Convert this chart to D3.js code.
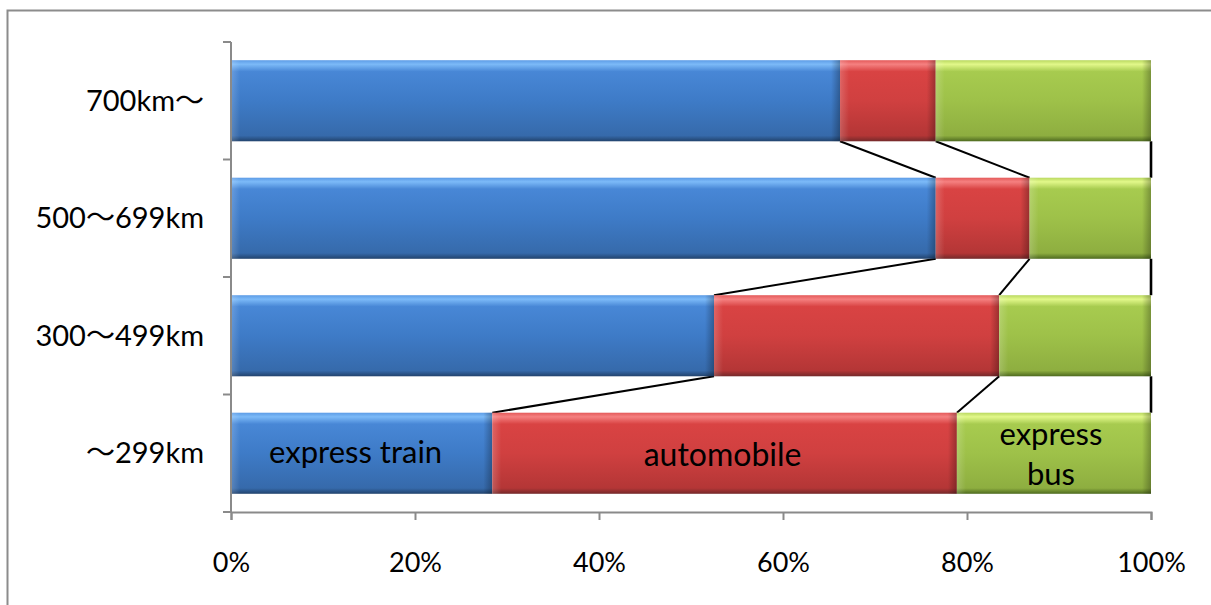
<!DOCTYPE html>
<html>
<head>
<meta charset="utf-8">
<script src="https://cdn.jsdelivr.net/npm/d3@7"></script>
<style>
  html, body { margin: 0; padding: 0; background: #fff; }
  svg { display: block; }
  text { font-family: Lato, "Noto Sans CJK JP", sans-serif; fill: #000; }
</style>
</head>
<body>
<svg id="chart" width="1211" height="605"></svg>
<script>
// Distance bands, top to bottom
const categories = ["700km〜", "500〜699km", "300〜499km", "〜299km"];
// Modal share (%) per band
const expressTrain = [66.2, 76.6, 52.5, 28.4];
const automobile   = [10.4, 10.2, 31.0, 50.5];
const expressBus   = [23.4, 13.2, 16.5, 21.1];
const seriesNames  = ["express train", "automobile", "express bus"];
const xTicks = [0, 20, 40, 60, 80, 100];

const svg = d3.select("#chart");
const W = 1211, H = 605;
const m = { left: 231, right: 60, top: 42, bottom: 93 };

const x = d3.scaleLinear().domain([0, 100]).range([m.left, W - m.right]);
const y = d3.scaleBand().domain(categories)
  .range([m.top, H - m.bottom]).paddingInner(0.31).paddingOuter(0.155);

// Outer chart frame
svg.append("rect").attr("x", 7.5).attr("y", 10.5)
  .attr("width", W + 20).attr("height", H + 20)
  .attr("fill", "none").attr("stroke", "#8c8c8c").attr("stroke-width", 2);

// Gradients giving the bars a bevelled look
const defs = svg.append("defs");
const palettes = [
  { id: "g0", stops: ["#5d9ce6", "#7cbaf8", "#4887d6", "#3e7bc7", "#366aab", "#22436d"] },
  { id: "g1", stops: ["#e45a5a", "#f58080", "#d94343", "#d04040", "#b43636", "#74292a"] },
  { id: "g2", stops: ["#b9d860", "#e2f88a", "#a7cb4f", "#9ec149", "#8eae40", "#4e6a1f"] }
];
palettes.forEach(p => {
  const g = defs.append("linearGradient").attr("id", p.id)
    .attr("x1", 0).attr("y1", 0).attr("x2", 0).attr("y2", 1);
  [0, 0.05, 0.14, 0.5, 0.93, 1].forEach((o, i) =>
    g.append("stop").attr("offset", o).attr("stop-color", p.stops[i]));
});
const eL = defs.append("linearGradient").attr("id", "edgeL");
eL.append("stop").attr("offset", 0).attr("stop-color", "#fff").attr("stop-opacity", 0.18);
eL.append("stop").attr("offset", 1).attr("stop-color", "#fff").attr("stop-opacity", 0);
const eR = defs.append("linearGradient").attr("id", "edgeR");
eR.append("stop").attr("offset", 0).attr("stop-color", "#000").attr("stop-opacity", 0);
eR.append("stop").attr("offset", 1).attr("stop-color", "#000").attr("stop-opacity", 0.28);

// Stack the series
const rows = categories.map((c, i) => ({
  cat: c, vals: [expressTrain[i], automobile[i], expressBus[i]]
}));
rows.forEach(r => {
  let acc = 0;
  r.segs = r.vals.map((v, k) => { const s = { k, x0: acc, x1: acc + v }; acc += v; return s; });
});

// Series lines joining segment boundaries of neighbouring bars
const lineG = svg.append("g");
for (let i = 0; i < rows.length - 1; i++) {
  const up = rows[i], lo = rows[i + 1];
  up.segs.forEach((s, k) => {
    lineG.append("line")
      .attr("x1", x(s.x1)).attr("y1", y(up.cat) + y.bandwidth())
      .attr("x2", x(lo.segs[k].x1)).attr("y2", y(lo.cat))
      .attr("stroke", "#000").attr("stroke-width", k === 2 ? 2.6 : 2);
  });
}

// Bars
const barG = svg.append("g");
rows.forEach(r => {
  r.segs.forEach(s => {
    const x0 = x(s.x0), w = x(s.x1) - x(s.x0), y0 = y(r.cat), h = y.bandwidth();
    barG.append("rect").attr("x", x0).attr("y", y0).attr("width", w).attr("height", h)
      .attr("fill", `url(#g${s.k})`);
    barG.append("rect").attr("x", x0).attr("y", y0).attr("width", 9).attr("height", h)
      .attr("fill", "url(#edgeL)");
    barG.append("rect").attr("x", x0 + w - 9).attr("y", y0).attr("width", 9).attr("height", h)
      .attr("fill", "url(#edgeR)");
  });
});

// Value labels inside the lowest bar
const last = rows[rows.length - 1];
const lblG = svg.append("g").style("font-size", "31px").attr("text-anchor", "middle");
const cy = y(last.cat) + y.bandwidth() / 2;
lblG.append("text").attr("x", (x(last.segs[0].x0) + x(last.segs[0].x1)) / 2 - 6)
  .attr("y", cy + 10).text(seriesNames[0]);
lblG.append("text").attr("x", (x(last.segs[1].x0) + x(last.segs[1].x1)) / 2 - 2)
  .attr("y", cy + 13).style("font-size", "32px").text(seriesNames[1]);
const busText = lblG.append("text").attr("x", (x(last.segs[2].x0) + x(last.segs[2].x1)) / 2 - 3);
seriesNames[2].split(" ").forEach((wd, j) =>
  busText.append("tspan").attr("x", busText.attr("x")).attr("y", cy - 8 + j * 40).text(wd));

// Category axis with ticks on band boundaries
const axisColor = "#8a8a8a";
const yTop = y.range()[0], yBot = y.range()[1];
const boundaries = d3.range(categories.length + 1).map(i => yTop + i * y.step());
const yAx = svg.append("g");
yAx.append("line").attr("x1", m.left).attr("x2", m.left).attr("y1", yTop).attr("y2", yBot)
  .attr("stroke", axisColor).attr("stroke-width", 2);
yAx.selectAll(".tk").data(boundaries).join("line")
  .attr("x1", m.left - 8).attr("x2", m.left).attr("y1", d => d).attr("y2", d => d)
  .attr("stroke", axisColor).attr("stroke-width", 2);
yAx.selectAll("text").data(categories).join("text")
  .attr("x", 204).attr("y", d => y(d) + y.bandwidth() / 2 + 10)
  .attr("text-anchor", "end").style("font-size", "29px").text(d => d);

// Percentage axis
const xAx = svg.append("g").attr("transform", `translate(0,${yBot})`)
  .call(d3.axisBottom(x).tickValues(xTicks).tickSize(8).tickFormat(d => d + "%"));
xAx.select(".domain").attr("stroke", axisColor).attr("stroke-width", 2);
xAx.selectAll(".tick line").attr("stroke", axisColor).attr("stroke-width", 2);
xAx.selectAll(".tick text").attr("y", 60).attr("dy", 0)
  .style("font-size", "27px").style("font-family", "Lato, sans-serif").attr("fill", "#000");
</script>
</body>
</html>
